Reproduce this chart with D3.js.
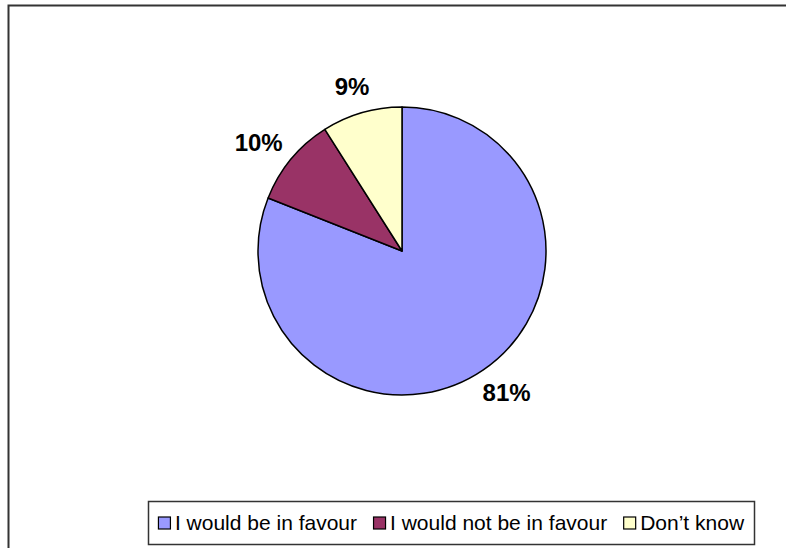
<!DOCTYPE html>
<html>
<head>
<meta charset="utf-8">
<script src="https://cdn.jsdelivr.net/npm/d3@7"></script>
<style>
  body { margin: 0; background: #fff; }
  svg { display: block; }
  text { font-family: Arial, "Liberation Sans", sans-serif; }
</style>
</head>
<body>
<svg id="chart" width="786" height="548"></svg>
<script>
var categories = ["I would be in favour", "I would not be in favour", "Don\u2019t know"];
var values = [81, 10, 9];
var labels = ["81%", "10%", "9%"];
var colors = ["#9999FF", "#993366", "#FFFFCC"];

var svg = d3.select("#chart");

// outer chart area frame (runs off right and bottom edges)
svg.append("rect")
    .attr("x", 8.5)
    .attr("y", 5.5)
    .attr("width", 800)
    .attr("height", 560)
    .attr("fill", "#fff")
    .attr("stroke", "#333")
    .attr("stroke-width", 2);

var cx = 402, cy = 251, radius = 144;

var pie = d3.pie().sort(null).value(function(d) { return d; });
var arcs = pie(values);
var arc = d3.arc().innerRadius(0).outerRadius(radius);

var g = svg.append("g").attr("transform", "translate(" + cx + "," + cy + ")");

g.selectAll("path")
    .data(arcs)
  .enter().append("path")
    .attr("d", arc)
    .attr("fill", function(d, i) { return colors[i]; })
    .attr("stroke", "#000")
    .attr("stroke-width", 1.5)
    .attr("stroke-linejoin", "round");

// labels outside end, pushed out along the mid angle
var labelR = 162;
g.selectAll("text.pct")
    .data(arcs)
  .enter().append("text")
    .attr("class", "pct")
    .attr("font-size", 24)
    .attr("font-weight", "bold")
    .attr("text-anchor", "middle")
    .text(function(d, i) { return labels[i]; })
    .each(function(d) {
      var t = d3.select(this);
      var bb = this.getBBox();
      var a = (d.startAngle + d.endAngle) / 2;
      var sx = Math.sin(a), sy = -Math.cos(a);
      var px = sx * labelR + sx * bb.width / 2;
      var py = sy * labelR + sy * 9;
      t.attr("x", px).attr("y", py + 8.5);
    });

// legend
var legX = 148, legY = 501, legW = 606, legH = 43;
var legend = svg.append("g");
legend.append("rect")
    .attr("x", legX + 0.5)
    .attr("y", legY + 0.5)
    .attr("width", legW)
    .attr("height", legH)
    .attr("fill", "#fff")
    .attr("stroke", "#333")
    .attr("stroke-width", 1.5);

var sq = 12, gapSq = 5, gapItem = 16, fs = 21;
var items = legend.selectAll("g.item")
    .data(categories)
  .enter().append("g")
    .attr("class", "item");

items.append("text")
    .attr("font-size", fs)
    .text(function(d) { return d; });

var widths = [];
items.select("text").each(function() { widths.push(this.getComputedTextLength()); });
var total = d3.sum(widths) + categories.length * (sq + gapSq) + (categories.length - 1) * gapItem;
var x0 = legX + (legW - total) / 2;
var baseY = legY + legH / 2 + 7.5;

items.each(function(d, i) {
  var it = d3.select(this);
  it.insert("rect", "text")
      .attr("x", x0 + 0.5)
      .attr("y", legY + legH / 2 - sq / 2 + 0.5)
      .attr("width", sq)
      .attr("height", sq)
      .attr("fill", colors[i])
      .attr("stroke", "#000")
      .attr("stroke-width", 1.2);
  it.select("text")
      .attr("x", x0 + sq + gapSq)
      .attr("y", baseY);
  x0 += sq + gapSq + widths[i] + gapItem;
});
</script>
</body>
</html>
